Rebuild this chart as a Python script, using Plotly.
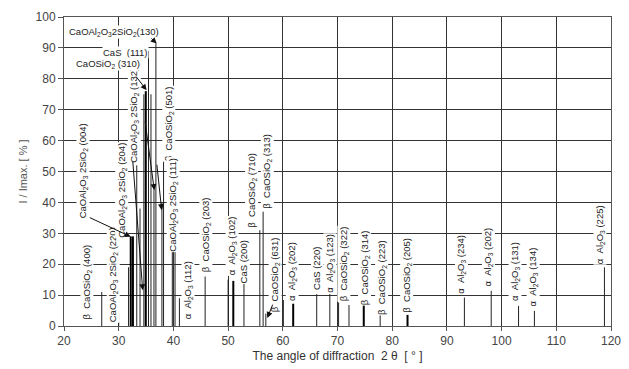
import plotly.graph_objects as go

# ---- data (2θ in degrees, intensity I/Imax in %) ----
thin_pos = [26.9, 30.0, 31.8, 33.3, 33.9, 34.6, 35.45, 35.9, 36.45, 36.8, 37.9, 38.2,
            39.8, 40.3, 41.1, 45.8, 50.0, 52.9, 55.8, 56.4, 56.9, 60.1, 66.2, 68.6,
            70.2, 72.1, 77.8, 93.2, 98.1, 103.1, 106.0, 118.8]
thin_int = [11, 4, 19, 52, 38, 75, 89, 75, 46, 91.5, 40, 57,
            25, 24, 9, 16, 15, 16, 31, 37, 4, 8.4, 10.3, 10.3,
            7.6, 6.8, 4.3, 9.2, 11.4, 6.5, 4.9, 19]
thick_pos = [32.2, 32.6, 34.95, 50.95, 61.9, 74.8, 82.8]
thick_int = [29, 29, 76, 14.6, 7.2, 6.8, 3.6]

AL = "α  Al<sub>2</sub>O<sub>3</sub>"
BC = "β  CaOSiO<sub>2</sub>"
CA = "CaOAl<sub>2</sub>O<sub>3</sub> 2SiO<sub>2</sub>"

# rotated labels: text, 2θ centre, I centre
vlabel_text = [BC + " (400)", CA + " (220)", CA + " (004)", CA + " (204)", CA + " (132)",
               BC + " (501)", CA + " (111)", AL + " (112)", BC + " (203)", AL + " (102)",
               "CaS (200)", BC + " (710)", BC + " (313)", BC + " (631)", AL + " (202)",
               "CaS (220)", AL + " (123)", BC + " (322)", BC + " (314)", BC + " (223)",
               BC + " (205)", AL + " (234)", AL + " (202)", AL + " (131)", AL + " (134)",
               AL + " (225)"]
vlabel_x = [24.15, 29.0, 23.5, 30.55, 32.9, 39.2, 40.0, 42.7, 45.96, 50.66,
            52.8, 54.3, 57.2, 58.6, 61.7, 66.2, 68.6, 71.2, 75.0, 78.1,
            82.65, 92.7, 97.6, 102.45, 105.8, 118.0]
vlabel_y = [14.3, 16.5, 50.1, 44.0, 68.2, 65.3, 39.4, 11.6, 29.4, 26.0,
            20.7, 44.0, 50.1, 16.5, 17.5, 18.7, 20.4, 20.0, 19.0, 15.8,
            16.5, 20.0, 22.3, 17.5, 15.8, 29.4]

# horizontal labels
hlabel_text = ["CaOAl<sub>2</sub>O<sub>3</sub>2SiO<sub>2</sub>(130)", "CaS  (111)",
               "CaOSiO<sub>2</sub> (310)"]
hlabel_x = [29.05, 31.3, 28.1]
hlabel_y = [95.1, 88.6, 84.7]

# arrows: tail -> head
arrow_tail_x = [32.98, 35.72, 34.8, 36.95, 32.56, 24.44, 58.26]
arrow_tail_y = [81.2, 93.5, 66.6, 52.7, 53.7, 35.3, 7.4]
arrow_head_x = [35.1, 36.95, 36.5, 37.86, 34.39, 32.19, 57.17]
arrow_head_y = [76.3, 91.4, 44.0, 37.5, 11.6, 28.9, 2.6]


def segments(pos, inten):
    xs, ys = [], []
    for p, i in zip(pos, inten):
        xs += [p, p, None]
        ys += [0, i, None]
    return xs, ys


fig = go.Figure()
tx, ty = segments(thin_pos, thin_int)
fig.add_trace(go.Scatter(x=tx, y=ty, mode="lines", line=dict(color="#222", width=1),
                         hoverinfo="skip", showlegend=False))
kx, ky = segments(thick_pos, thick_int)
fig.add_trace(go.Scatter(x=kx, y=ky, mode="lines", line=dict(color="#000", width=2),
                         hoverinfo="skip", showlegend=False))

FAM = "Liberation Sans, Arial, sans-serif"
ann = []
lab_font = dict(family=FAM, size=9.5, color="#222")
for t, x, y in zip(vlabel_text, vlabel_x, vlabel_y):
    ann.append(dict(x=x, y=y, xref="x", yref="y", text=t, textangle=-90, showarrow=False,
                    xanchor="center", yanchor="middle", bgcolor="white", borderpad=0,
                    font=lab_font))
for t, x, y in zip(hlabel_text, hlabel_x, hlabel_y):
    ann.append(dict(x=x, y=y, xref="x", yref="y", text=t, showarrow=False,
                    xanchor="center", yanchor="middle", bgcolor="white", borderpad=0,
                    font=lab_font))
for ax_, ay_, hx, hy in zip(arrow_tail_x, arrow_tail_y, arrow_head_x, arrow_head_y):
    ann.append(dict(x=hx, y=hy, xref="x", yref="y", ax=ax_, ay=ay_, axref="x", ayref="y",
                    text="", showarrow=True, arrowhead=2, arrowsize=1.2, arrowwidth=1,
                    arrowcolor="#111", standoff=0))

axis_font = dict(family=FAM, size=12, color="#444")
fig.update_layout(
    width=629, height=369,
    margin=dict(l=64, r=18, t=17, b=43),
    paper_bgcolor="white", plot_bgcolor="white",
    annotations=ann,
    xaxis=dict(range=[20, 120], dtick=10, tick0=20, showgrid=True, gridcolor="#333",
               gridwidth=1, showline=True, linecolor="#555", linewidth=1, mirror=True,
               ticks="outside", ticklen=4, tickcolor="#555", tickfont=axis_font,
               zeroline=False, automargin=False,
               title=dict(text="The angle of diffraction  2 θ  [ ° ]",
                          font=dict(family=FAM, size=12, color="#333"), standoff=4)),
    yaxis=dict(range=[0, 100], dtick=10, showgrid=True, gridcolor="#333", gridwidth=1,
               showline=True, linecolor="#555", linewidth=1, mirror=True,
               ticks="outside", ticklen=5, tickcolor="#555", tickfont=axis_font,
               zeroline=False, automargin=False,
               title=dict(text="I / Imax. [ % ]",
                          font=dict(family=FAM, size=11, color="#555"), standoff=5)),
)

fig.write_html("out.html")
